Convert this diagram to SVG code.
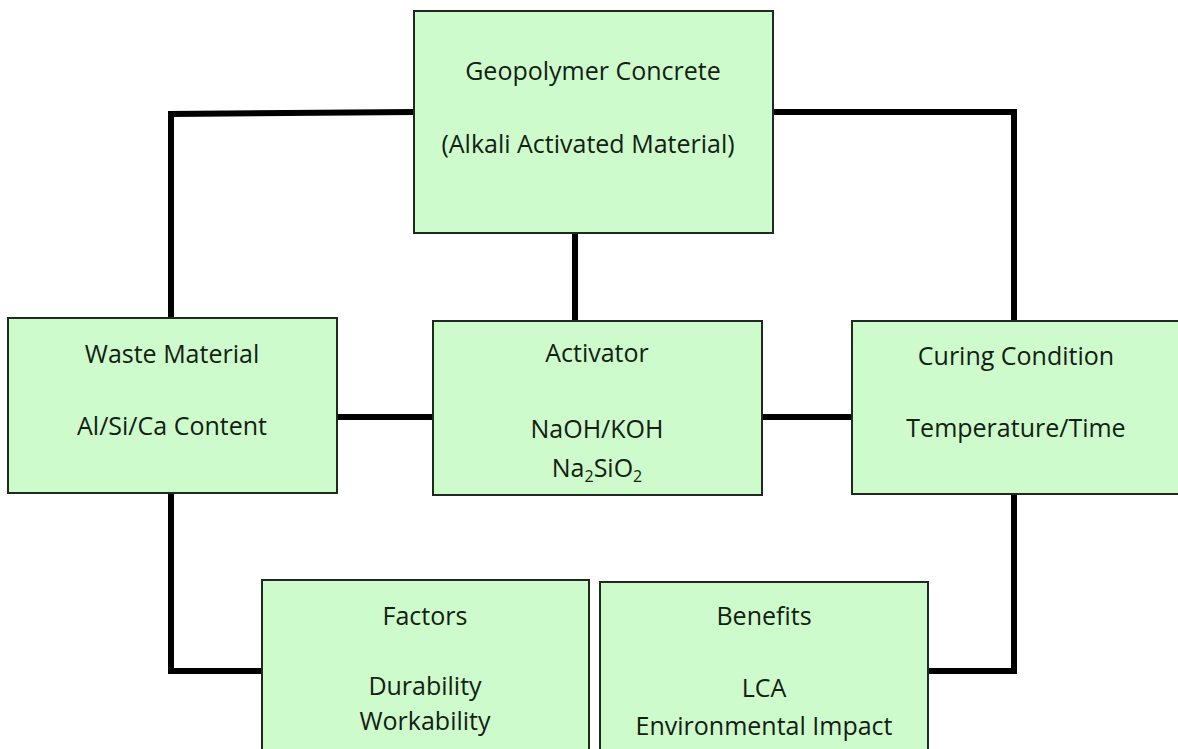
<svg xmlns="http://www.w3.org/2000/svg" width="1178" height="749" viewBox="0 0 1178 749">
<style>
.box{fill:#CEFBCB;stroke:#1f2a1f;stroke-width:2}
.t{font-family:"Open Sans","Noto Sans","Liberation Sans",sans-serif;font-size:25px;fill:#142014;text-anchor:middle}
.c{fill:none;stroke:#000;stroke-width:6;stroke-linejoin:miter;stroke-linecap:butt}
</style>
<rect width="1178" height="749" fill="#fff"/>
<g id="connectors">
<polyline class="c" points="414,112 171,114 171,318"/>
<polyline class="c" points="773,112 1014,112 1014,321"/>
<line class="c" x1="575" y1="233" x2="575" y2="321"/>
<line class="c" x1="337" y1="417" x2="433" y2="417"/>
<line class="c" x1="762" y1="417" x2="852" y2="417"/>
<polyline class="c" points="171,493 171,671 262,671"/>
<polyline class="c" points="1014,494 1014,671 928,671"/>
</g>
<g id="geopolymer">
<rect class="box" x="414" y="11" width="359" height="222"/>
<text class="t" x="593" y="80">Geopolymer Concrete</text>
<text class="t" x="588" y="153">(Alkali Activated Material)</text>
</g>
<g id="waste">
<rect class="box" x="8" y="318" width="329" height="175"/>
<text class="t" x="172" y="363">Waste Material</text>
<text class="t" x="172" y="435">Al/Si/Ca Content</text>
</g>
<g id="activator">
<rect class="box" x="433" y="321" width="329" height="174"/>
<text class="t" x="597" y="362">Activator</text>
<text class="t" x="597" y="438">NaOH/KOH</text>
<text class="t" x="597" y="477">Na<tspan font-size="16" dy="5">2</tspan><tspan dy="-5">SiO</tspan><tspan font-size="16" dy="5">2</tspan></text>
</g>
<g id="curing">
<rect class="box" x="852" y="321" width="340" height="173"/>
<text class="t" x="1016" y="365">Curing Condition</text>
<text class="t" x="1016" y="437">Temperature/Time</text>
</g>
<g id="factors">
<rect class="box" x="262" y="580" width="327" height="190"/>
<text class="t" x="425" y="625">Factors</text>
<text class="t" x="425" y="695">Durability</text>
<text class="t" x="425" y="730">Workability</text>
</g>
<g id="benefits">
<rect class="box" x="600" y="582" width="328" height="190"/>
<text class="t" x="764" y="625">Benefits</text>
<text class="t" x="764" y="697">LCA</text>
<text class="t" x="764" y="735">Environmental Impact</text>
</g>
</svg>
